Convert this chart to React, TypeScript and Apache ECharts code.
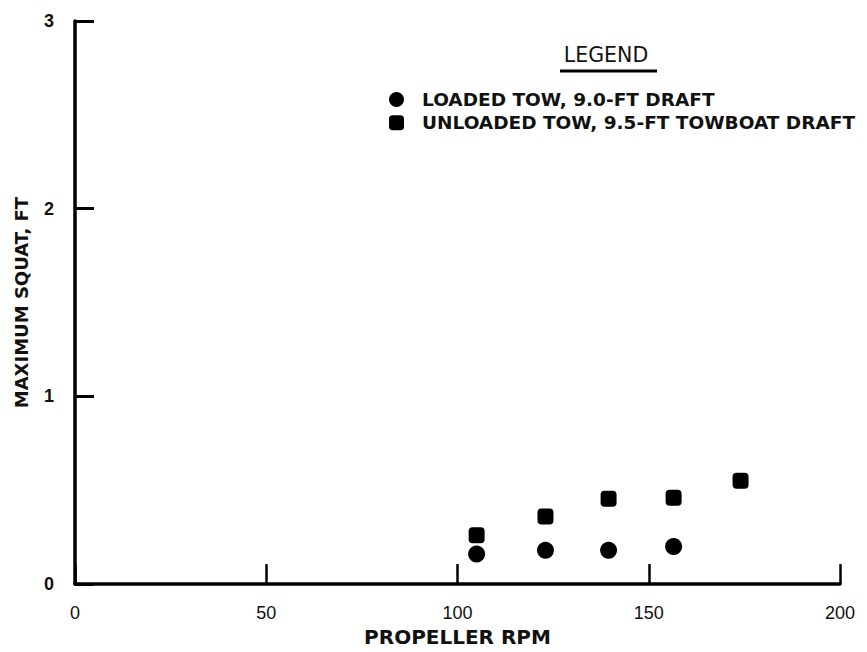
import React, { useEffect, useRef } from "react";
import * as echarts from "echarts";

const xTicks = [0, 50, 100, 150, 200];
const yTicks = [0, 1, 2, 3];
const loadedRpm = [105, 123, 139.5, 156.5];
const loadedSquat = [0.16, 0.18, 0.18, 0.2];
const unloadedRpm = [105, 123, 139.5, 156.5, 174];
const unloadedSquat = [0.26, 0.36, 0.455, 0.46, 0.55];
const loadedName = "LOADED TOW, 9.0-FT DRAFT";
const unloadedName = "UNLOADED TOW, 9.5-FT TOWBOAT DRAFT";

const FONT = "DejaVu Sans";
const NUMFONT = "Liberation Sans";

export default function App() {
  const ref = useRef<HTMLDivElement>(null);
  useEffect(() => {
    if (!ref.current) return;
    const chart = echarts.init(ref.current, null, { renderer: "svg" });
    chart.setOption({
      animation: false,
      backgroundColor: "#ffffff",
      grid: { left: 75, right: 27, top: 21, bottom: 63, containLabel: false },
      xAxis: {
        type: "value",
        min: xTicks[0],
        max: xTicks[xTicks.length - 1],
        interval: 50,
        name: "PROPELLER RPM",
        nameLocation: "middle",
        nameGap: 42,
        nameTextStyle: { color: "#111", fontSize: 20, fontWeight: "bold", fontFamily: FONT },
        axisLine: { show: true, lineStyle: { color: "#000", width: 3.5 } },
        axisTick: { show: true, inside: true, length: 20, lineStyle: { color: "#000", width: 2.5 } },
        axisLabel: { color: "#111", fontSize: 18, fontFamily: NUMFONT, margin: 20 },
        splitLine: { show: false },
      },
      yAxis: {
        type: "value",
        min: yTicks[0],
        max: yTicks[yTicks.length - 1],
        interval: 1,
        name: "MAXIMUM SQUAT, FT",
        nameLocation: "middle",
        nameGap: 45,
        nameTextStyle: { color: "#111", fontSize: 18, fontWeight: "bold", fontFamily: FONT },
        axisLine: { show: true, lineStyle: { color: "#000", width: 3.5 } },
        axisTick: { show: true, inside: true, length: 19, lineStyle: { color: "#000", width: 3 } },
        axisLabel: { color: "#111", fontSize: 18, fontWeight: "bold", fontFamily: NUMFONT, margin: 21 },
        splitLine: { show: false },
      },
      legend: {
        orient: "vertical",
        left: 389,
        top: 89.5,
        padding: 0,
        itemWidth: 15,
        itemHeight: 15,
        itemGap: 3.3,
        selectedMode: false,
        textStyle: {
          color: "#111",
          fontSize: 18.5,
          fontWeight: "bold",
          fontFamily: FONT,
          lineHeight: 20,
          padding: [0, 0, 0, 13],
        },
        data: [
          { name: loadedName, icon: "circle" },
          { name: unloadedName, icon: "roundRect" },
        ],
      },
      graphic: [
        {
          type: "text",
          x: 606,
          y: 55,
          style: {
            text: "LEGEND",
            fill: "#111",
            font: `20.5px ${FONT}`,
            textAlign: "center",
            textVerticalAlign: "middle",
          },
        },
        {
          type: "line",
          shape: { x1: 560, y1: 71, x2: 657, y2: 71 },
          style: { stroke: "#000", lineWidth: 3 },
        },
      ],
      series: [
        {
          name: loadedName,
          type: "scatter",
          symbol: "circle",
          symbolSize: 17,
          itemStyle: { color: "#000", opacity: 1 },
          data: loadedRpm.map((x, i) => [x, loadedSquat[i]]),
        },
        {
          name: unloadedName,
          type: "scatter",
          symbol: "roundRect",
          symbolSize: 16,
          itemStyle: { color: "#000", opacity: 1 },
          data: unloadedRpm.map((x, i) => [x, unloadedSquat[i]]),
        },
      ],
    });
    return () => chart.dispose();
  }, []);
  return <div ref={ref} style={{ width: 867, height: 652, position: "absolute", left: 0, top: 0 }} />;
}
